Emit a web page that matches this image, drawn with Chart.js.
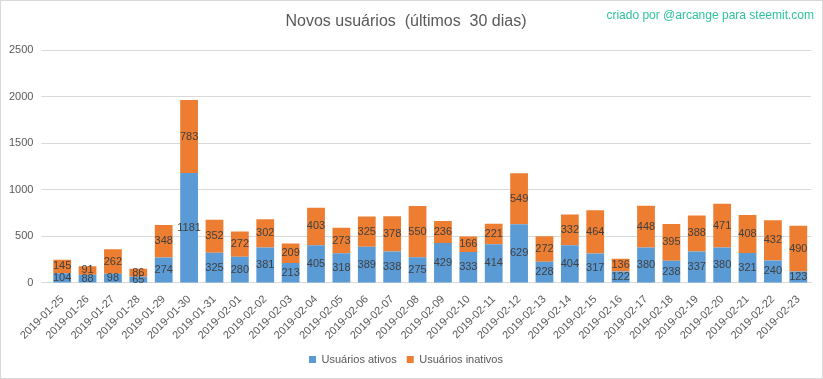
<!DOCTYPE html>
<html><head><meta charset="utf-8">
<script src="https://cdn.jsdelivr.net/npm/chart.js@4.4.1/dist/chart.umd.min.js"></script>
<style>
html,body{margin:0;padding:0;background:#fff;}
#wrap{position:relative;width:821px;height:377px;border:1px solid #d9d9d9;}
#mark{position:absolute;right:8px;top:7px;font-family:'Liberation Sans',sans-serif;font-size:12px;color:#2ec4a0;}
</style></head>
<body>
<div id="wrap"><canvas id="c" width="821" height="377"></canvas><div id="mark">criado por @arcange para steemit.com</div></div>
<script>
const categories = ["2019-01-25","2019-01-26","2019-01-27","2019-01-28","2019-01-29","2019-01-30","2019-01-31","2019-02-01","2019-02-02","2019-02-03","2019-02-04","2019-02-05","2019-02-06","2019-02-07","2019-02-08","2019-02-09","2019-02-10","2019-02-11","2019-02-12","2019-02-13","2019-02-14","2019-02-15","2019-02-16","2019-02-17","2019-02-18","2019-02-19","2019-02-20","2019-02-21","2019-02-22","2019-02-23"];
const ativos = [104,88,98,65,274,1181,325,280,381,213,405,318,389,338,275,429,333,414,629,228,404,317,122,380,238,337,380,321,240,123];
const inativos = [145,91,262,86,348,783,352,272,302,209,403,273,325,378,550,236,166,221,549,272,332,464,136,448,395,388,471,408,432,490];
const yTicks = [0,500,1000,1500,2000,2500];

const FONT = "'Liberation Sans',sans-serif";
const labelPlugin = {
  id:'barLabels',
  afterDatasetsDraw(chart){
    const ctx = chart.ctx;
    ctx.save();
    ctx.font = "11px " + FONT;
    ctx.fillStyle = "#404040";
    ctx.textAlign = "center";
    ctx.textBaseline = "middle";
    chart.data.datasets.forEach((ds,di)=>{
      const meta = chart.getDatasetMeta(di);
      meta.data.forEach((bar,i)=>{
        const y = (bar.y + bar.base)/2;
        ctx.fillText(String(ds.data[i]), bar.x, y);
      });
    });
    ctx.restore();
  }
};

new Chart(document.getElementById('c'),{
  type:'bar',
  data:{labels:categories,datasets:[
    {label:'Usuários ativos',data:ativos,backgroundColor:'#5b9bd5',stack:'s'},
    {label:'Usuários inativos',data:inativos,backgroundColor:'#ed7d31',stack:'s'}
  ]},
  options:{
    responsive:false,animation:false,
    layout:{padding:{left:0,right:11,top:4,bottom:3}},
    datasets:{bar:{categoryPercentage:1,barPercentage:0.7}},
    plugins:{
      title:{display:true,text:'Novos usuários  (últimos  30 dias)',color:'#595959',font:{family:FONT,size:16,weight:'normal'},padding:{top:7,bottom:19}},
      legend:{position:'bottom',labels:{boxWidth:7,boxHeight:7,color:'#595959',font:{family:FONT,size:11},padding:10}},
      tooltip:{enabled:false}
    },
    scales:{
      x:{stacked:true,grid:{display:false},border:{color:'#d9d9d9'},
         afterFit(s){s.paddingLeft=0;s.paddingRight=0;},
         ticks:{color:'#595959',font:{family:FONT,size:11},minRotation:45,maxRotation:45,autoSkip:false,padding:2}},
      y:{stacked:true,min:0,max:2500,afterBuildTicks(s){s.ticks=yTicks.map(v=>({value:v}));},
         grid:{color:'#d9d9d9'},border:{display:false},
         ticks:{color:'#595959',font:{family:FONT,size:11},padding:8,callback:v=>String(v)}}
    }
  },
  plugins:[labelPlugin]
});
</script>
</body></html>
